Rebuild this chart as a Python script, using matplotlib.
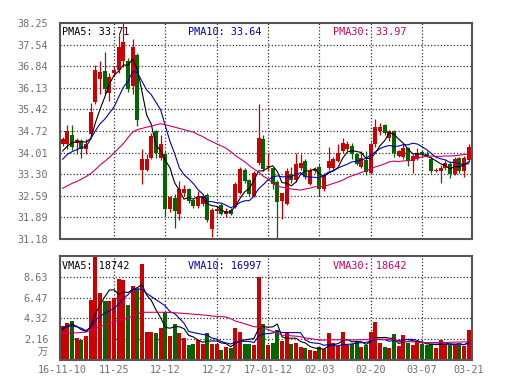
import numpy as np
import pandas as pd
import matplotlib
matplotlib.use("Agg")
import matplotlib.pyplot as plt

# ---------------- data ----------------
tick_idx = [0, 11, 22, 33, 44, 55, 66, 77, 87]
tick_labels = ["16-11-10", "11-25", "12-12", "12-27", "17-01-12",
               "02-03", "02-20", "03-07", "03-21"]
grid_idx = [11, 22, 33, 44, 55, 66, 77]

price_ticks = [31.18, 31.89, 32.59, 33.30, 34.01, 34.72, 35.42, 36.13, 36.84, 37.54, 38.25]
price_tick_labels = ["31.18", "31.89", "32.59", "33.30", "34.01", "34.72",
                     "35.42", "36.13", "36.84", "37.54", "38.25"]
vol_ticks = [2.16, 4.32, 6.47, 8.63]
vol_tick_labels = ["2.16", "4.32", "6.47", "8.63"]
vol_top = 10.79

opens = [34.30, 34.28, 34.60, 34.33, 34.38, 34.13, 34.62, 35.67, 36.43, 36.67,
         35.96, 36.61, 36.72, 36.99, 36.99, 36.18, 37.21, 33.43, 33.43, 33.84,
         34.71, 33.84, 33.97, 32.16, 32.51, 31.99, 32.70, 32.81, 32.45, 32.27,
         32.32, 32.62, 31.51, 32.10, 32.29, 32.00, 32.13, 32.24, 32.70, 33.44,
         33.10, 32.59, 33.68, 34.44, 33.55, 33.50, 33.05, 32.41, 32.34, 33.30,
         33.10, 33.52, 33.73, 32.99, 33.40, 33.54, 32.81, 33.52, 33.50, 33.73,
         34.06, 34.12, 34.22, 33.97, 33.54, 33.76, 33.35, 34.28, 34.70, 34.91,
         34.50, 34.71, 33.90, 33.87, 34.17, 33.73, 33.80, 34.02, 33.95, 33.79,
         33.42, 33.39, 33.52, 33.65, 33.32, 33.82, 33.39, 33.76]
highs = [34.52, 34.91, 34.90, 34.50, 34.45, 34.45, 35.63, 36.89, 36.99, 37.30,
         36.60, 36.85, 37.87, 38.25, 37.10, 37.74, 37.27, 34.11, 33.95, 34.65,
         34.75, 34.60, 34.05, 32.60, 32.65, 33.08, 32.95, 32.85, 32.50, 32.76,
         32.65, 32.70, 32.20, 32.25, 32.35, 32.20, 32.20, 33.05, 33.55, 33.50,
         33.15, 33.40, 35.60, 34.58, 33.98, 33.52, 33.10, 32.70, 33.52, 33.55,
         33.98, 33.95, 33.80, 33.52, 33.55, 33.63, 33.35, 34.19, 33.85, 34.30,
         34.50, 34.40, 34.32, 34.00, 34.05, 34.05, 34.35, 35.11, 34.98, 34.95,
         34.75, 34.76, 34.10, 34.28, 34.20, 33.95, 34.15, 34.10, 34.05, 33.85,
         33.50, 33.60, 33.75, 33.72, 33.85, 33.88, 33.90, 34.28]
lows = [34.22, 34.12, 34.10, 33.95, 33.84, 33.95, 34.60, 35.60, 35.91, 35.91,
        35.70, 36.50, 36.60, 36.80, 36.00, 35.91, 34.87, 32.97, 33.40, 33.79,
        33.84, 33.75, 31.94, 32.05, 31.54, 31.80, 32.60, 32.35, 32.20, 32.20,
        32.25, 31.75, 31.24, 32.00, 31.95, 31.90, 31.95, 32.20, 32.65, 33.00,
        32.60, 32.55, 33.60, 33.40, 33.41, 32.81, 31.18, 31.83, 32.30, 33.00,
        33.05, 33.45, 33.15, 32.95, 33.35, 32.60, 32.75, 33.45, 33.45, 33.70,
        34.00, 34.05, 33.80, 33.60, 33.50, 33.28, 33.30, 34.20, 34.60, 34.60,
        34.40, 33.85, 33.85, 33.80, 33.57, 33.35, 33.75, 33.90, 33.85, 33.35,
        33.38, 33.00, 33.45, 33.19, 33.28, 33.35, 33.20, 33.70]
closes = [34.46, 34.71, 34.19, 34.42, 34.11, 34.30, 35.33, 36.72, 36.64, 36.10,
          36.47, 36.72, 37.45, 37.62, 36.10, 37.45, 35.06, 33.79, 33.79, 34.55,
          34.00, 34.28, 32.16, 32.54, 32.10, 32.81, 32.81, 32.43, 32.27, 32.56,
          32.59, 31.80, 32.13, 32.16, 32.00, 32.11, 32.00, 32.97, 33.46, 33.08,
          32.65, 33.35, 34.50, 33.48, 33.58, 32.99, 32.40, 32.67, 33.41, 33.12,
          33.63, 33.68, 33.21, 33.41, 33.46, 32.81, 33.27, 33.73, 33.79, 34.01,
          34.33, 34.28, 33.95, 33.65, 33.84, 33.36, 34.28, 34.83, 34.86, 34.66,
          34.70, 33.98, 34.05, 34.17, 33.73, 33.90, 34.00, 33.97, 33.88, 33.39,
          33.45, 33.52, 33.68, 33.32, 33.79, 33.39, 33.84, 34.19]
# volume in 万 (10k)
volumes = [3.53, 3.87, 4.04, 2.26, 2.05, 2.50, 6.27, 10.79, 6.95, 6.16,
           6.09, 6.44, 8.42, 8.32, 5.75, 7.64, 7.40, 9.96, 2.94, 2.94,
           2.77, 3.29, 5.00, 2.50, 3.70, 2.77, 2.26, 1.58, 1.64, 2.05,
           1.71, 2.77, 1.71, 1.64, 1.06, 1.30, 1.20, 3.29, 2.95, 1.70,
           1.64, 1.58, 8.56, 3.70, 1.58, 1.75, 3.08, 1.92, 2.94, 1.64,
           1.75, 1.30, 1.23, 1.06, 0.89, 1.37, 1.10, 2.84, 1.75, 1.44,
           2.94, 1.58, 1.71, 1.92, 1.30, 1.58, 2.94, 3.97, 1.81, 1.40,
           1.23, 2.67, 1.47, 2.57, 1.78, 1.54, 1.92, 1.64, 1.51, 1.64,
           1.23, 2.05, 1.71, 1.58, 1.54, 1.58, 1.47, 3.08]

# moving-average values at the start of the window (read off the chart,
# they depend on days before the first visible candle)
pma5_head = [34.06, 34.22, 34.33, 34.36]
pma10_head = [33.79, 33.95, 34.04, 34.10, 34.17, 34.20, 34.45, 34.72, 34.95]
pma30_head = [32.84, 32.92, 33.00, 33.06, 33.14, 33.22, 33.32, 33.45, 33.60, 33.72,
              33.85, 34.00, 34.15, 34.30, 34.50, 34.68, 34.76, 34.80, 34.84, 34.87,
              34.92, 34.95, 34.92, 34.88, 34.84, 34.80, 34.76, 34.72, 34.68]
vma5_head = [3.20, 3.55, 3.70, 3.50]
vma10_head = [3.30, 3.45, 3.55, 3.45, 3.30, 3.05, 3.40, 4.10, 4.55]
vma30_head = [2.80, 2.80, 2.80, 2.82, 2.85, 2.90, 3.05, 3.25, 3.45, 3.65,
              3.80, 3.95, 4.10, 4.22, 4.35, 4.55, 4.80, 4.93, 4.95, 4.95,
              4.95, 4.95, 4.95, 4.93, 4.90, 4.87, 4.83, 4.79, 4.75]

price_labels = ["PMA5: 33.71", "PMA10: 33.64", "PMA30: 33.97"]
vol_labels = ["VMA5: 18742", "VMA10: 16997", "VMA30: 18642"]

# ---------------- styling ----------------
RED = "#cc0000"
GREEN = "#006600"
MA_COLORS = ["#000000", "#0000bb", "#cc0066"]
TXT_COLORS = ["#000000", "#0000aa", "#cc0066"]
FRAME = "#555555"
GRID = "#333333"
TICK = "#707070"
MONO = "DejaVu Sans Mono"
FS = 7.3
GRID_LS = (0, (1.0, 1.6))
GRID_LW = 0.9


def ma(values, window, head):
    s = pd.Series(values, dtype=float).rolling(window).mean().to_numpy()
    s[:len(head)] = head
    return s


o = np.array(opens); h = np.array(highs); l = np.array(lows); c = np.array(closes)
v = np.array(volumes)
n = len(c)
x = np.arange(n)
colors = np.where(c >= o, RED, GREEN)

pmas = [ma(c, 5, pma5_head), ma(c, 10, pma10_head), ma(c, 30, pma30_head)]
vmas = [ma(v, 5, vma5_head), ma(v, 10, vma10_head), ma(v, 30, vma30_head)]

W, H = 520, 390
fig = plt.figure(figsize=(W / 100, H / 100), dpi=100)
fig.patch.set_facecolor("white")


def rect(left, top, right, bottom):
    return [left / W, 1 - bottom / H, (right - left) / W, (bottom - top) / H]


ax = fig.add_axes(rect(60, 23, 471.5, 239))
axv = fig.add_axes(rect(60, 256, 471.5, 360))

xl = (-0.57, 87.6)
for a in (ax, axv):
    a.set_xlim(*xl)
    for sp in a.spines.values():
        sp.set_color(FRAME)
        sp.set_linewidth(1.5)
        sp.set_zorder(10)
    a.tick_params(length=0, labelsize=FS, labelcolor=TICK, pad=8.4)
    for gi in grid_idx:
        a.axvline(gi, color=GRID, lw=GRID_LW, ls=GRID_LS, zorder=0)

# ---- price panel ----
ax.set_ylim(price_ticks[0], price_ticks[-1])
ax.set_yticks(price_ticks)
ax.set_yticklabels(price_tick_labels, fontfamily=MONO)
ax.set_xticks([])
for t in price_ticks[1:-1]:
    ax.axhline(t, color=GRID, lw=GRID_LW, ls=GRID_LS, zorder=0)

ax.vlines(x, l, h, colors=colors, linewidth=0.9, zorder=2)
body_bottom = np.minimum(o, c)
body_height = np.maximum(np.abs(c - o), 0.025)
ax.bar(x, body_height, bottom=body_bottom, width=0.82, color=colors,
       linewidth=0, zorder=3)
for m, col in zip(pmas, MA_COLORS):
    ax.plot(x, m, color=col, lw=0.8, zorder=4)

# ---- volume panel ----
axv.set_ylim(0, vol_top)
axv.set_yticks(vol_ticks)
axv.set_yticklabels(vol_tick_labels, fontfamily=MONO)
for t in vol_ticks:
    axv.axhline(t, color=GRID, lw=GRID_LW, ls=GRID_LS, zorder=0)
axv.bar(x, v, width=0.82, color=colors, linewidth=0, zorder=3)
for m, col in zip(vmas, MA_COLORS):
    axv.plot(x, m, color=col, lw=0.8, zorder=4)
axv.set_xticks(tick_idx)
axv.set_xticklabels(tick_labels, fontfamily=MONO)
axv.tick_params(axis="x", pad=3.8)
axv.text(-0.029, 0.08, "万", transform=axv.transAxes, ha="right", va="center",
         fontsize=FS, color=TICK, family=["Noto Sans CJK SC", "DejaVu Sans"])

# ---- legend texts ----
lab_x = [62.5, 188, 333]
for txt, col, lx in zip(price_labels, TXT_COLORS, lab_x):
    fig.text(lx / W, 1 - 32 / H, txt, color=col, fontsize=FS, fontfamily=MONO,
             ha="left", va="center", zorder=20)
for txt, col, lx in zip(vol_labels, TXT_COLORS, lab_x):
    fig.text(lx / W, 1 - 266 / H, txt, color=col, fontsize=FS, fontfamily=MONO,
             ha="left", va="center", zorder=20)

fig.savefig("out.png", dpi=100, facecolor="white")
